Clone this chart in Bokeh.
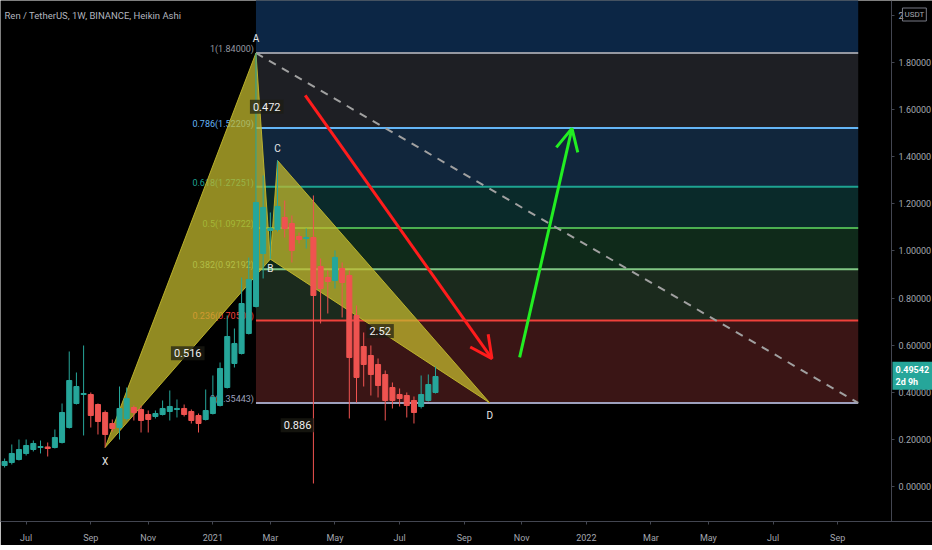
import pandas as pd
from bokeh.plotting import figure
from bokeh.models import (Range1d, FixedTicker, Label, Arrow, OpenHead, ColumnDataSource,
                          LinearAxis, CustomJSTickFormatter)
from bokeh.embed import file_html
from bokeh.resources import INLINE
from bokeh.core.properties import value

FONT = value("Roboto")

# ---------------- data ----------------
candle_dates = pd.date_range("2020-06-15", periods=61, freq="7D")
opens = [0.0891, 0.1019, 0.1146, 0.1401, 0.1570, 0.1655, 0.1677, 0.1655, 0.1868, 0.2504,
         0.3523, 0.3905, 0.3905, 0.3480, 0.3141, 0.2674, 0.2504, 0.2886, 0.3353, 0.3268,
         0.3056, 0.2971, 0.3056, 0.3183, 0.3268, 0.3311, 0.3183, 0.3014, 0.2844, 0.3098,
         0.3438, 0.4202, 0.5221, 0.5645, 0.6494, 0.7640, 0.9890, 1.0866, 1.0908, 1.1418,
         1.1163, 1.0611, 1.0526, 1.0569, 0.9338, 0.8871, 0.8744, 0.9253, 0.8956, 0.7258,
         0.5942, 0.5560, 0.5178, 0.4754, 0.4202, 0.3905, 0.3862, 0.3650, 0.3396, 0.3650,
         0.3990]
highs = [0.1188, 0.1783, 0.1995, 0.1995, 0.1952, 0.1952, 0.1868, 0.2419, 0.3523, 0.5730,
         0.4839, 0.5985, 0.3990, 0.3523, 0.3226, 0.2844, 0.4244, 0.4202, 0.3438, 0.3438,
         0.3226, 0.3226, 0.3650, 0.4075, 0.3693, 0.3480, 0.3268, 0.3098, 0.4117, 0.4711,
         0.5263, 0.7258, 0.6706, 0.8871, 0.9720, 1.8400, 1.3200, 1.1630, 1.3837, 1.2139,
         1.1503, 1.0781, 1.0951, 1.2352, 0.9677, 0.9168, 1.0017, 0.9508, 0.9168, 0.7683,
         0.6537, 0.5985, 0.5433, 0.4924, 0.4414, 0.4160, 0.3990, 0.3820, 0.4711, 0.4754,
         0.5093]
lows = [0.0806, 0.0934, 0.1104, 0.1316, 0.1486, 0.1401, 0.1273, 0.1613, 0.1825, 0.2462,
        0.3480, 0.2165, 0.2504, 0.2207, 0.1655, 0.2334, 0.1995, 0.2801, 0.2801, 0.2292,
        0.2292, 0.2886, 0.3014, 0.2801, 0.2929, 0.2971, 0.2674, 0.2292, 0.2801, 0.3056,
        0.3396, 0.4160, 0.5051, 0.5603, 0.6452, 0.7598, 0.8829, 0.9650, 1.0823, 1.0569,
        0.9508, 1.0314, 1.0102, 0.0127, 0.6919, 0.7343, 0.8404, 0.7173, 0.2886, 0.3565,
        0.4244, 0.3862, 0.3778, 0.2801, 0.3311, 0.3396, 0.2929, 0.2674, 0.3311, 0.3608,
        0.3947]
closes = [0.1061, 0.1401, 0.1570, 0.1740, 0.1825, 0.1698, 0.1613, 0.2080, 0.3141, 0.4499,
          0.4244, 0.3947, 0.3014, 0.2759, 0.2207, 0.2462, 0.3311, 0.3735, 0.3141, 0.2801,
          0.2844, 0.3098, 0.3311, 0.3396, 0.3311, 0.3056, 0.2801, 0.2674, 0.3226, 0.3778,
          0.5009, 0.6367, 0.6070, 0.7767, 0.8786, 1.2054, 1.1842, 1.0951, 1.1885, 1.0951,
          1.0017, 1.0484, 1.0569, 0.8107, 0.8404, 0.8701, 0.9720, 0.8659, 0.5475, 0.4627,
          0.5178, 0.4754, 0.4287, 0.3650, 0.3650, 0.3735, 0.3438, 0.3141, 0.3905, 0.4329,
          0.4669]

# Fibonacci retracement (levels)
fib_ratios = ["0", "0.236", "0.382", "0.5", "0.618", "0.786", "1"]
fib_prices = [0.35443, 0.70503, 0.92192, 1.09722, 1.27251, 1.52209, 1.84000]
fib_top_price = 2.75817
fib_start, fib_end = "2021-02-15", "2022-09-25"
fib_line_colors = ["#9da0bd", "#f0413b", "#81c784", "#4caf50", "#1ea391", "#64b5f6", "#9598a1"]
fib_band_colors = ["#3a1515", "#1b2a1d", "#0f2a1a", "#0a2a2a", "#11263c", "#1e1f24"]
fib_top_color = "#0c2645"

# XABCD pattern
pat_names = ["X", "A", "B", "C", "D"]
pat_dates = ["2020-09-21", "2021-02-15", "2021-03-01", "2021-03-08", "2021-10-01"]
pat_prices = [0.1655, 1.8400, 0.9650, 1.3837, 0.35443]
ratio_pairs = [("X", "B", "0.516"), ("A", "C", "0.472"), ("B", "D", "2.52"), ("X", "D", "0.886")]

# arrows
red_arrow_dates = ["2021-04-04", "2021-10-03"]
red_arrow_prices = [1.660, 0.543]
green_arrow_dates = ["2021-10-30", "2021-12-20"]
green_arrow_prices = [0.548, 1.520]

# axes
x_tick_dates = ["2020-07-06", "2020-09-07", "2020-11-02", "2021-01-04", "2021-03-01",
                "2021-05-03", "2021-07-05", "2021-09-06", "2021-11-01", "2022-01-03",
                "2022-03-07", "2022-05-02", "2022-07-04", "2022-09-05"]
x_tick_labels = ["Jul", "Sep", "Nov", "2021", "Mar", "May", "Jul", "Sep", "Nov", "2022",
                 "Mar", "May", "Jul", "Sep"]
y_ticks = [0.0, 0.2, 0.4, 0.6, 0.8, 1.0, 1.2, 1.4, 1.6, 1.8, 2.0]
price_scale_at = "2022-10-27 10:00"
last_price = 0.49542
last_price_text = "0.49542\n2d 9h"
title_text = "Ren / TetherUS, 1W, BINANCE, Heikin Ashi"


def ms(s):
    return pd.Timestamp(s).value / 1e6


DAY = 86400000.0
UP, DOWN = "#26a69a", "#ef5350"
AXC = "#434651"

# ---------------- figure ----------------
FW, FH = 932, 521
p = figure(frame_width=FW, frame_height=FH,
           x_range=Range1d(ms("2020-06-11 00:00"), ms("2022-12-06 10:00")),
           y_range=Range1d(-0.1486, 2.0628),
           x_axis_type=None, y_axis_type=None,
           output_backend="svg", toolbar_location=None,
           background_fill_color="#000000", border_fill_color="#000000",
           outline_line_color=None, min_border=0)
p.xgrid.visible = False
p.ygrid.visible = False

xaxis = LinearAxis(ticker=FixedTicker(ticks=[ms(d) for d in x_tick_dates]),
                   formatter=CustomJSTickFormatter(
                       args=dict(t=[ms(d) for d in x_tick_dates], l=x_tick_labels),
                       code="let i=t.indexOf(tick); if(i<0){let b=0;for(let k=0;k<t.length;k++){if(Math.abs(t[k]-tick)<Math.abs(t[b]-tick))b=k;} i=b;} return l[i];"))
yaxis = LinearAxis(ticker=FixedTicker(ticks=y_ticks), fixed_location=ms(price_scale_at),
                   formatter=CustomJSTickFormatter(code="return tick > 1.99 ? '2' : tick.toFixed(5);"))
for ax in (xaxis, yaxis):
    ax.axis_line_color = AXC
    ax.major_tick_line_color = AXC
    ax.major_tick_out = 3
    ax.major_tick_in = 0
    ax.minor_tick_line_color = None
    ax.major_label_text_color = "#a3a6af"
    ax.major_label_text_font = "Roboto"
    ax.major_label_text_font_size = "9px"
    ax.major_label_standoff = 4
xaxis.major_label_standoff = 8
p.add_layout(xaxis, "below")
p.add_layout(yaxis, "right")

# ---------------- fib retracement ----------------
fs, fe = ms(fib_start), ms(fib_end)
p.quad(left=[fs] * 6, right=[fe] * 6, bottom=fib_prices[:-1], top=fib_prices[1:],
       fill_color=fib_band_colors, line_color=None)
p.quad(left=[fs], right=[fe], bottom=[fib_prices[-1]], top=[fib_top_price],
       fill_color=fib_top_color, line_color=None)
p.segment(x0=[fs] * 7, x1=[fe] * 7, y0=fib_prices, y1=fib_prices,
          line_color=fib_line_colors, line_width=2)
fib_labels = [f"{r}({v:.5f})" for r, v in zip(fib_ratios, fib_prices)]
p.text(x=[fs] * 7, y=fib_prices, text=fib_labels, text_color=fib_line_colors,
       text_font=FONT, text_font_size="9px", text_align="right", text_baseline="bottom",
       x_offset=-2, y_offset=1)

# dashed trend line
p.line([fs, fe], [fib_prices[-1], fib_prices[0]], line_color="#a0a0a0", line_width=2,
       line_dash="8 7")

# ---------------- harmonic pattern ----------------
pt = {n: (ms(d), v) for n, d, v in zip(pat_names, pat_dates, pat_prices)}
tri1 = ["X", "A", "B"]
tri2 = ["B", "C", "D"]
p.patches(xs=[[pt[n][0] for n in tri1], [pt[n][0] for n in tri2]],
          ys=[[pt[n][1] for n in tri1], [pt[n][1] for n in tri2]],
          fill_color="#c4ba2e", fill_alpha=0.74, line_color="#c4ba2e", line_alpha=0.9,
          line_width=1)

# ---------------- candles ----------------
x = [d.value / 1e6 for d in candle_dates]
colors = [UP if c >= o else DOWN for o, c in zip(opens, closes)]
src = ColumnDataSource(dict(x=x, o=opens, h=highs, l=lows, c=closes, color=colors,
                            top=[max(o, c) for o, c in zip(opens, closes)],
                            bot=[min(o, c) for o, c in zip(opens, closes)]))
p.segment(x0="x", x1="x", y0="l", y1="h", line_color="color", line_width=1, source=src)
p.vbar(x="x", width=4.9 * DAY, top="top", bottom="bot", fill_color="color",
       line_color="color", line_width=1, source=src)

# ---------------- pattern labels ----------------
offs = {"X": (0, -14), "A": (0, 14), "B": (0, -9), "C": (0, 12), "D": (0, -13)}
for n in pat_names:
    px, py = pt[n]
    p.add_layout(Label(x=px, y=py, text=n, x_offset=offs[n][0], y_offset=offs[n][1],
                       text_color="#e8e8e8", text_font="Roboto", text_font_size="10px",
                       text_align="center", text_baseline="middle"))
for a, b, t in ratio_pairs:
    mx = (pt[a][0] + pt[b][0]) / 2
    my = (pt[a][1] + pt[b][1]) / 2
    p.add_layout(Label(x=mx, y=my, text=t, text_color="#f0f0f0", text_font="Roboto",
                       text_font_size="11px", text_align="center", text_baseline="middle",
                       background_fill_color="#1c1c14", background_fill_alpha=0.7,
                       padding=3))

# ---------------- arrows ----------------
for dts, prs, col in ((red_arrow_dates, red_arrow_prices, "#ff1c1c"),
                      (green_arrow_dates, green_arrow_prices, "#22ee22")):
    p.add_layout(Arrow(end=OpenHead(size=22, line_color=col, line_width=3),
                       x_start=ms(dts[0]), y_start=prs[0], x_end=ms(dts[1]), y_end=prs[1],
                       line_color=col, line_width=3))

# ---------------- texts ----------------
p.add_layout(Label(x=4, y=FH - 15, x_units="screen", y_units="screen", text=title_text,
                   text_color="#b2b5be", text_font="Roboto", text_font_size="9.5px",
                   text_baseline="middle"))
p.add_layout(Label(x=ms(price_scale_at), y=last_price, x_offset=1, y_offset=-6,
                   text=last_price_text,
                   text_color="#ffffff", text_font="Roboto", text_font_size="9px",
                   text_font_style="bold", text_baseline="middle",
                   background_fill_color=UP, padding=3))
p.add_layout(Label(x=ms(price_scale_at), y=FH - 14, y_units="screen", x_offset=11,
                   text="USDT", text_color="#a3a6af", text_font="Roboto",
                   text_font_size="8px", text_baseline="middle",
                   border_line_color="#787b86", padding=2))

open("out.html", "w").write(file_html(p, INLINE))
